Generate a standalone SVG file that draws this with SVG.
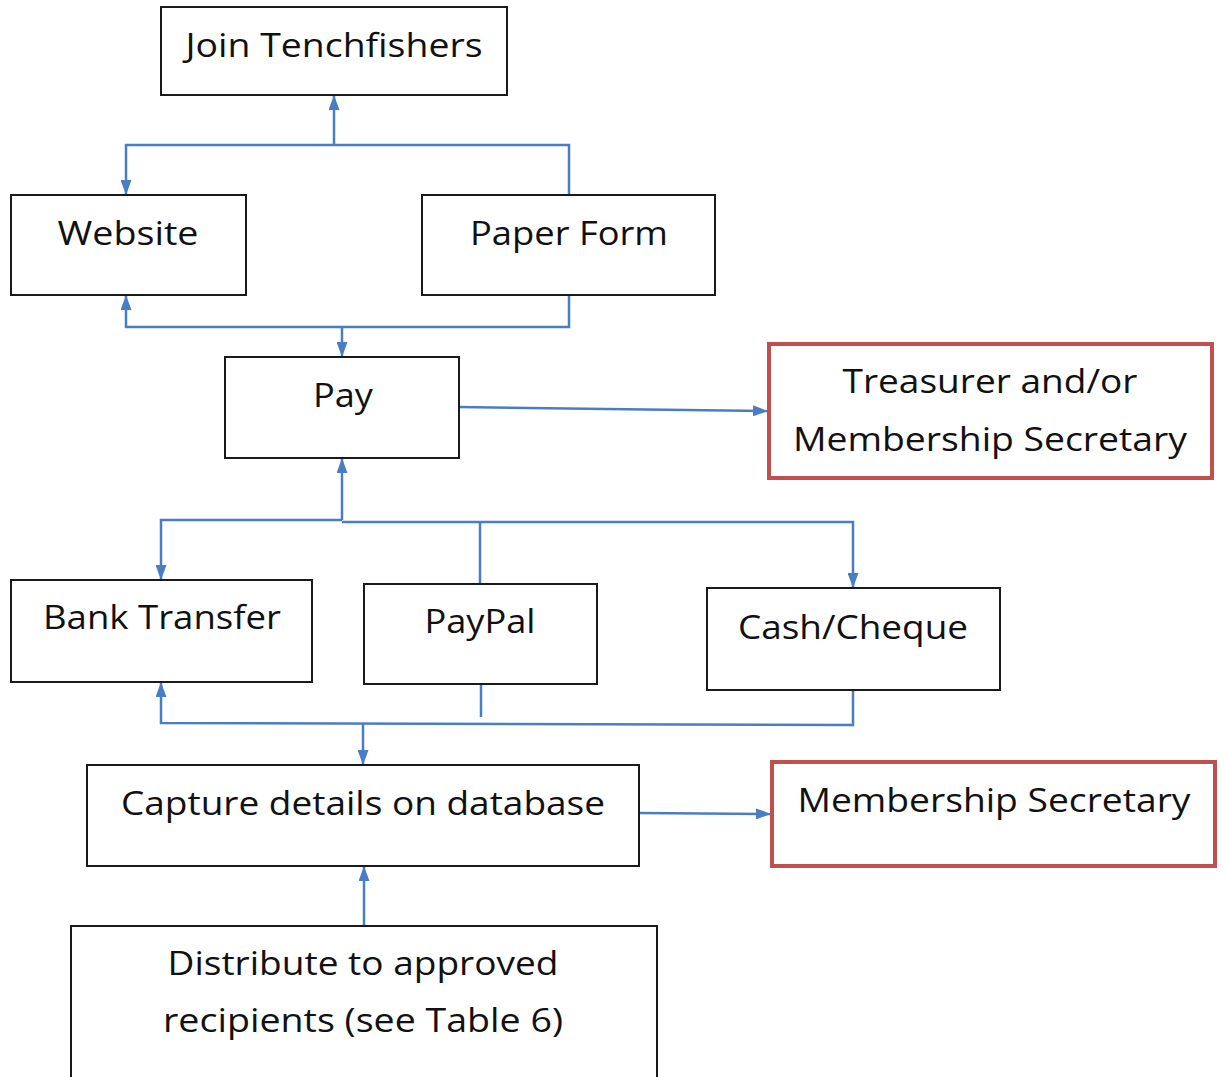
<svg xmlns="http://www.w3.org/2000/svg" width="1226" height="1077" viewBox="0 0 1226 1077">
<style>
.box{fill:#fff;stroke:#1a1a1a;stroke-width:2}
.red{fill:#fff;stroke:#C0504D;stroke-width:4}
.t{font-family:"Open Sans","Liberation Sans",sans-serif;font-size:32px;fill:#111;text-anchor:middle}
.c{fill:none;stroke:#4A7EC4;stroke-width:2.5}
</style>
<defs>
<marker id="ah" viewBox="0 0 15 11" refX="15" refY="5.5" markerWidth="15" markerHeight="11" markerUnits="userSpaceOnUse" orient="auto">
<path d="M0,0 L15,5.5 L0,11 Z" fill="#4A7EC4"/>
</marker>
</defs>
<rect width="1226" height="1077" fill="#fff"/>
<g id="connectors">
<polyline class="c" points="569,195 569,145 126,145 126,195" marker-end="url(#ah)"/>
<line class="c" x1="334" y1="145" x2="334" y2="95" marker-end="url(#ah)"/>
<polyline class="c" points="569,295 569,327 126,327 126,295" marker-end="url(#ah)"/>
<line class="c" x1="342" y1="327" x2="342" y2="357" marker-end="url(#ah)"/>
<line class="c" x1="459" y1="407" x2="768" y2="411" marker-end="url(#ah)"/>
<line class="c" x1="342" y1="520" x2="342" y2="458" marker-end="url(#ah)"/>
<polyline class="c" points="342,520 161,520 161,580" marker-end="url(#ah)"/>
<polyline class="c" points="342,522 853,522 853,588" marker-end="url(#ah)"/>
<line class="c" x1="480" y1="522" x2="480" y2="584"/>
<line class="c" x1="481" y1="684" x2="481" y2="717"/>
<polyline class="c" points="853,690 853,725 161,723 161,682" marker-end="url(#ah)"/>
<line class="c" x1="363" y1="724" x2="363" y2="765" marker-end="url(#ah)"/>
<line class="c" x1="639" y1="813" x2="771" y2="814" marker-end="url(#ah)"/>
<line class="c" x1="364" y1="926" x2="364" y2="866" marker-end="url(#ah)"/>
</g>
<g id="join"><rect class="box" x="161" y="7" width="346" height="88"/><text class="t" x="334" y="57" textLength="297" lengthAdjust="spacingAndGlyphs">Join Tenchfishers</text></g>
<g id="website"><rect class="box" x="11" y="195" width="235" height="100"/><text class="t" x="128" y="245" textLength="141" lengthAdjust="spacingAndGlyphs">Website</text></g>
<g id="paperform"><rect class="box" x="422" y="195" width="293" height="100"/><text class="t" x="569" y="245" textLength="198" lengthAdjust="spacingAndGlyphs">Paper Form</text></g>
<g id="pay"><rect class="box" x="225" y="357" width="234" height="101"/><text class="t" x="343" y="407" textLength="60" lengthAdjust="spacingAndGlyphs">Pay</text></g>
<g id="treasurer"><rect class="red" x="769" y="344" width="443" height="134"/><text class="t" x="990" y="393" textLength="295" lengthAdjust="spacingAndGlyphs">Treasurer and/or</text><text class="t" x="990" y="451" textLength="394" lengthAdjust="spacingAndGlyphs">Membership Secretary</text></g>
<g id="bank"><rect class="box" x="11" y="580" width="301" height="102"/><text class="t" x="162" y="629" textLength="238" lengthAdjust="spacingAndGlyphs">Bank Transfer</text></g>
<g id="paypal"><rect class="box" x="364" y="584" width="233" height="100"/><text class="t" x="480" y="633" textLength="111" lengthAdjust="spacingAndGlyphs">PayPal</text></g>
<g id="cash"><rect class="box" x="707" y="588" width="293" height="102"/><text class="t" x="853" y="639" textLength="230" lengthAdjust="spacingAndGlyphs">Cash/Cheque</text></g>
<g id="capture"><rect class="box" x="87" y="765" width="552" height="101"/><text class="t" x="363" y="815" textLength="484" lengthAdjust="spacingAndGlyphs">Capture details on database</text></g>
<g id="memsec"><rect class="red" x="772" y="762" width="443" height="104"/><text class="t" x="994" y="812" textLength="393" lengthAdjust="spacingAndGlyphs">Membership Secretary</text></g>
<g id="distribute"><rect class="box" x="71" y="926" width="586" height="160"/><text class="t" x="363" y="975" textLength="391" lengthAdjust="spacingAndGlyphs">Distribute to approved</text><text class="t" x="363" y="1032" textLength="400" lengthAdjust="spacingAndGlyphs">recipients (see Table 6)</text></g>
</svg>
